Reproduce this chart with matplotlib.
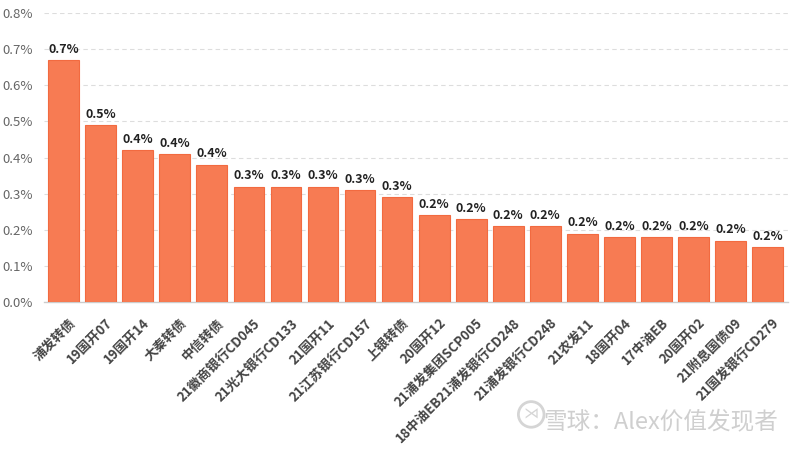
import matplotlib.pyplot as plt
from matplotlib.ticker import FuncFormatter
from matplotlib.patches import Ellipse

# Data (percent)
names = ['浦发转债', '19国开07', '19国开14', '大秦转债', '中信转债', '21徽商银行CD045',
         '21光大银行CD133', '21国开11', '21江苏银行CD157', '上银转债', '20国开12',
         '21浦发集团SCP005', '18中油EB21浦发银行CD248', '21浦发银行CD248', '21农发11',
         '18国开04', '17中油EB', '20国开02', '21附息国债09', '21国发银行CD279']
values = [0.67, 0.49, 0.42, 0.41, 0.38, 0.32, 0.32, 0.32, 0.31, 0.29,
          0.24, 0.23, 0.21, 0.21, 0.19, 0.18, 0.18, 0.18, 0.17, 0.152]

plt.rcParams['font.family'] = ['Noto Sans CJK SC', 'DejaVu Sans']

fig = plt.figure(figsize=(8, 4.49), dpi=100)
ax = fig.add_axes([0.055, 0.327, 0.930, 0.644])

x = range(len(values))
ax.bar(x, values, width=0.83, color='#F77B53', edgecolor='#F26A40', linewidth=0.8, zorder=3)

# value labels on top of bars
for i, v in enumerate(values):
    ax.text(i, v + 0.012, '%.1f%%' % v, ha='center', va='bottom',
            fontsize=9, fontweight='bold', color='#222222')

ax.set_xlim(-0.53, len(values) - 0.45)
ax.set_ylim(0, 0.8)
ax.set_yticks([i / 10 for i in range(9)])
ax.yaxis.set_major_formatter(FuncFormatter(lambda v, p: '%.1f%%' % v))
ax.tick_params(axis='y', length=0, labelsize=9.5, labelcolor='#666666', pad=8)

ax.set_xticks([i + 0.12 for i in x])
ax.set_xticklabels(names, rotation=45, ha='right', rotation_mode='anchor',
                   fontsize=9.5, fontweight='bold', color='#444444')
ax.tick_params(axis='x', length=0, pad=10)

ax.grid(axis='y', linestyle=(0, (4, 3)), color='#dddddd', linewidth=0.8, zorder=0)
for s in ['top', 'right', 'left']:
    ax.spines[s].set_visible(False)
ax.spines['bottom'].set_color('#cccccc')
ax.spines['bottom'].set_linewidth(1)

# watermark
fig.text(0.973, 0.035, '雪球：Alex价值发现者', ha='right', va='bottom',
         fontsize=17, color='#cfcfcf')
fig.patches.append(Ellipse((0.664, 0.077), 0.032, 0.057, transform=fig.transFigure,
                           fill=False, edgecolor='#d5d5d5', linewidth=2))
fig.text(0.664, 0.077, '⋊', ha='center', va='center', fontsize=11, color='#d5d5d5',
         family='DejaVu Sans')

fig.savefig('out.png', dpi=100)
